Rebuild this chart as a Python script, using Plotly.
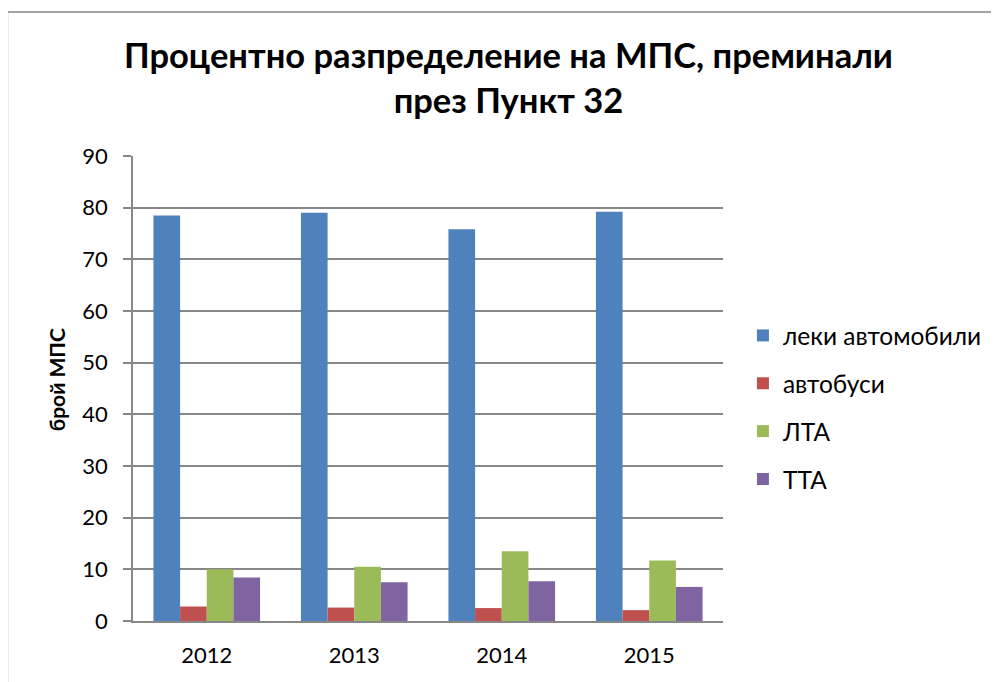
import plotly.graph_objects as go

years = ["2012", "2013", "2014", "2015"]
cars = [78.5, 79.0, 75.8, 79.2]
buses = [2.8, 2.6, 2.5, 2.1]
lta = [10.0, 10.5, 13.5, 11.7]
tta = [8.4, 7.5, 7.7, 6.6]

series = [
    ("леки автомобили", cars, "#4F81BD"),
    ("автобуси", buses, "#C0504D"),
    ("ЛТА", lta, "#9BBB59"),
    ("ТТА", tta, "#8064A2"),
]

FONT = "Lato, 'Open Sans', sans-serif"

fig = go.Figure()
for i, (name, vals, col) in enumerate(series):
    fig.add_trace(go.Bar(x=years, y=vals, name=name, marker_color=col,
                         marker_line_width=0, legendgroup=f"g{i}"))

# the html page body has an 8px default margin: compensate
OFF = 8
W, H = 999 - OFF, 682 - OFF
# target pixel positions in the 999x682 window
PL, PR, PT, PB = 133, 725, 156, 621
L, T = PL - OFF, PT - OFF
R, B = W - (PR - OFF), H - (PB - OFF)
pw, ph = W - L - R, H - T - B


def px_x(p):
    return (p - OFF - L) / pw


def px_y(p):
    return (H - B - (p - OFF)) / ph


fig.update_layout(
    width=W, height=H,
    margin=dict(l=L, r=R, t=T, b=B),
    paper_bgcolor="white", plot_bgcolor="white",
    barmode="group", bargap=0.277, bargroupgap=0,
    font=dict(family=FONT, size=22, color="black"),
    legend=dict(x=px_x(745), y=px_y(313), xanchor="left", yanchor="top",
                font=dict(size=24.5, family=FONT), tracegroupgap=13, itemwidth=30,
                bgcolor="rgba(0,0,0,0)"),
    showlegend=True,
)
fig.add_annotation(text="<b>Процентно разпределение на МПС, преминали<br>през Пункт 32</b>",
                   xref="paper", yref="paper", x=px_x(510), y=px_y(77),
                   xanchor="center", yanchor="middle", showarrow=False,
                   font=dict(size=34.5, family=FONT, color="black"))
fig.add_annotation(text="<b>брой МПС</b>", textangle=-90,
                   xref="paper", yref="paper", x=px_x(56), y=px_y(380),
                   xanchor="center", yanchor="middle", showarrow=False,
                   font=dict(size=21, family=FONT, color="black"))

fig.update_yaxes(range=[0, 90], dtick=10, showgrid=True, gridcolor="#878787", gridwidth=1.5,
                 showline=True, linecolor="#878787", linewidth=1.5,
                 ticks="outside", ticklen=8, tickcolor="#878787", tickwidth=1.5,
                 ticklabelstandoff=11, tickfont=dict(size=22),
                 zeroline=False)
fig.update_xaxes(showline=True, linecolor="#878787", linewidth=1.5, ticks="",
                 ticklabelstandoff=14, tickfont=dict(size=22))

fig.add_shape(type="rect", xref="paper", yref="paper",
              x0=px_x(7), x1=px_x(1030),
              y0=px_y(720), y1=px_y(12),
              line=dict(color="#878787", width=1.5), fillcolor="rgba(0,0,0,0)", layer="below")

fig.write_html("out.html")
